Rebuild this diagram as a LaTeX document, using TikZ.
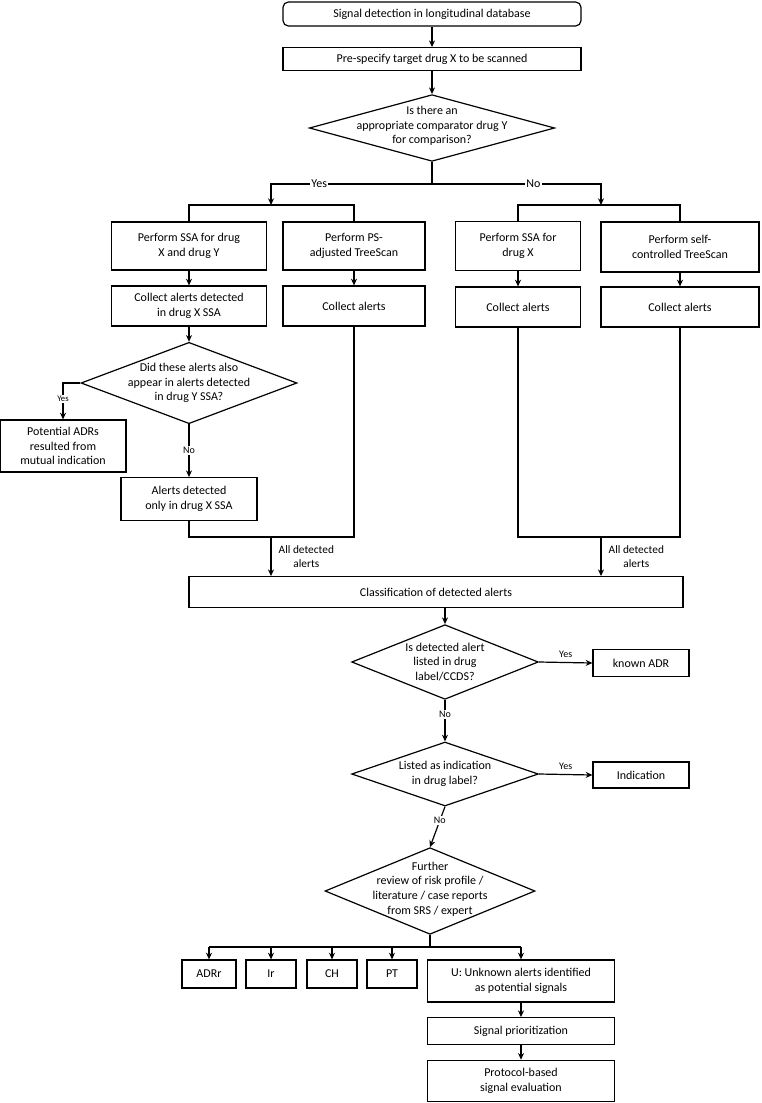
\documentclass[tikz,border=0pt]{standalone}
\usepackage{fontspec}
\setmainfont{Carlito}
\usetikzlibrary{shapes.geometric,arrows.meta}

\tikzset{
  box/.style={draw, line width=0.9pt, align=center, inner sep=1pt, font=\fontsize{9}{11}\selectfont},
  dia/.style={draw, diamond, line width=0.9pt, inner sep=0pt},
  txt/.style={align=center, font=\fontsize{9}{11}\selectfont},
  lbl/.style={font=\fontsize{7.5}{9}\selectfont, align=center, fill=white, inner sep=1pt},
  line/.style={line width=0.9pt},
  arr/.style={line width=0.9pt, -{Stealth[length=5pt,width=4.5pt]}}
}

\begin{document}
\begin{tikzpicture}[x=0.75pt, y=-0.75pt]
  \useasboundingbox (0,0) rectangle (761,1103);

  \node [box, rounded corners=4pt, minimum width=223.5pt, minimum height=18pt] (start) at (432,14) {Signal detection in longitudinal database};
  \node [box, minimum width=223.5pt, minimum height=17pt] (spec) at (432,59) {Pre-specify target drug X to be scanned};
  \node [dia, minimum width=184pt, minimum height=50pt] (comp) at (432,128) {};
  \node [txt] at (432,126) {Is there an\\appropriate comparator drug Y\\for comparison?};

  \node [box, minimum width=116pt, minimum height=36pt] (ssaxy) at (189,246) {Perform SSA for drug\\X and drug Y};
  \node [box, minimum width=106.5pt, minimum height=36pt] (ps) at (354,246) {Perform PS-\\adjusted TreeScan};
  \node [box, minimum width=94pt, minimum height=37pt] (ssax) at (518,246) {Perform SSA for\\drug X};
  \node [box, minimum width=118.5pt, minimum height=37.5pt] (sc) at (680,247) {Perform self-\\controlled TreeScan};

  \node [box, minimum width=116pt, minimum height=30pt] (colxy) at (189,306) {Collect alerts detected\\in drug X SSA};
  \node [box, minimum width=106.5pt, minimum height=30pt] (colps) at (354,306) {Collect alerts};
  \node [box, minimum width=94pt, minimum height=30pt] (colx) at (518,307) {Collect alerts};
  \node [box, minimum width=118.5pt, minimum height=30pt] (colsc) at (680,307) {Collect alerts};

  \node [dia, minimum width=162pt, minimum height=61pt] (appear) at (189,383) {};
  \node [txt] at (189,383) {Did these alerts also\\appear in alerts detected\\in drug Y SSA?};
  \node [box, minimum width=94.5pt, minimum height=39pt] (mutual) at (63,446) {Potential ADRs\\resulted from\\mutual indication};
  \node [box, minimum width=102pt, minimum height=32pt] (only) at (189,499) {Alerts detected\\only in drug X SSA};

  \node [box, minimum width=370.5pt, minimum height=23pt] (cls) at (436,592) {Classification of detected alerts};

  \node [dia, minimum width=140pt, minimum height=56pt] (listed) at (445,662) {};
  \node [txt] at (445,662) {Is detected alert\\listed in drug\\label/CCDS?};
  \node [box, minimum width=72pt, minimum height=20pt] (known) at (641,663) {known ADR};

  \node [dia, minimum width=140pt, minimum height=48pt] (indic) at (445,774) {};
  \node [txt] at (445,774) {Listed as indication\\in drug label?};
  \node [box, minimum width=72pt, minimum height=19.5pt] (ind) at (641,775) {Indication};

  \node [dia, minimum width=157.5pt, minimum height=65pt] (review) at (430,891) {};
  \node [txt] at (430,889) {Further\\review of risk profile /\\literature / case reports\\from SRS / expert};

  \node [box, minimum width=40.5pt, minimum height=21pt] (adrr) at (209,974) {ADRr};
  \node [box, minimum width=37.5pt, minimum height=21pt] (ir) at (271,974) {Ir};
  \node [box, minimum width=37.5pt, minimum height=21pt] (ch) at (332,974) {CH};
  \node [box, minimum width=37.5pt, minimum height=21pt] (pt) at (392,974) {PT};
  \node [box, minimum width=140pt, minimum height=31.5pt] (unk) at (521,981) {U: Unknown alerts identified\\as potential signals};
  \node [box, minimum width=140pt, minimum height=20pt] (prio) at (521,1031) {Signal prioritization};
  \node [box, minimum width=140pt, minimum height=31pt] (prot) at (521,1081) {Protocol-based\\signal evaluation};

  \coordinate (split) at (432,184);
  \coordinate (yes) at (271,205);
  \coordinate (no) at (601,205);
  \coordinate (ml) at (271,537);
  \coordinate (mr) at (601,537);
  \coordinate (fan) at (430,947);

  % top chain
  \draw [arr] (start) -- (spec);
  \draw [arr] (spec) -- (comp);
  \draw [line] (comp.south) -- (split);
  \draw [arr] (split) -| (yes) node [lbl, pos=0.35, font=\fontsize{9}{11}\selectfont] {Yes};
  \draw [arr] (split) -| (no) node [lbl, pos=0.3, font=\fontsize{9}{11}\selectfont] {No};
  \draw [line] (ssaxy.north) |- (yes) -| (ps.north);
  \draw [line] (ssax.north) |- (no) -| (sc.north);

  \draw [arr] (ssaxy) -- (colxy);
  \draw [arr] (ps) -- (colps);
  \draw [arr] (ssax) -- (colx);
  \draw [arr] (sc) -- (colsc);
  \draw [arr] (colxy) -- (appear);

  % mutual indication check
  \draw [arr] (appear.west) -| (mutual.north) node [lbl, pos=0.72, font=\fontsize{6.5}{8}\selectfont] {Yes};
  \draw [arr] (appear.south) -- (only.north) node [lbl, midway] {No};

  % merge into classification
  \draw [line] (only.south) |- (ml) -| (colps.south);
  \draw [line] (colx.south) |- (mr) -| (colsc.south);
  \draw [arr] (ml) -- (ml |- cls.north) node [midway, right, txt, font=\fontsize{8.5}{10}\selectfont, xshift=2pt] {All detected\\alerts};
  \draw [arr] (mr) -- (mr |- cls.north) node [midway, right, txt, font=\fontsize{8.5}{10}\selectfont, xshift=2pt] {All detected\\alerts};

  \draw [arr] (cls.south -| listed) -- (listed.north);
  \draw [arr] (listed.east) -- (known.west) node [midway, above, font=\fontsize{7.5}{9}\selectfont] {Yes};
  \draw [arr] (listed.south) -- (indic.north) node [lbl, pos=0.35] {No};
  \draw [arr] (indic.east) -- (ind.west) node [midway, above, font=\fontsize{7.5}{9}\selectfont] {Yes};
  \draw [arr] (indic.south) -- (review.north) node [lbl, pos=0.35] {No};

  % final classification
  \draw [line] (review.south) -- (fan);
  \draw [line] (adrr.north |- fan) -- (unk.north |- fan);
  \foreach \n in {adrr,ir,ch,pt,unk}
    \draw [arr] (\n.north |- fan) -- (\n.north);
  \draw [arr] (unk) -- (prio);
  \draw [arr] (prio) -- (prot);
\end{tikzpicture}
\end{document}
